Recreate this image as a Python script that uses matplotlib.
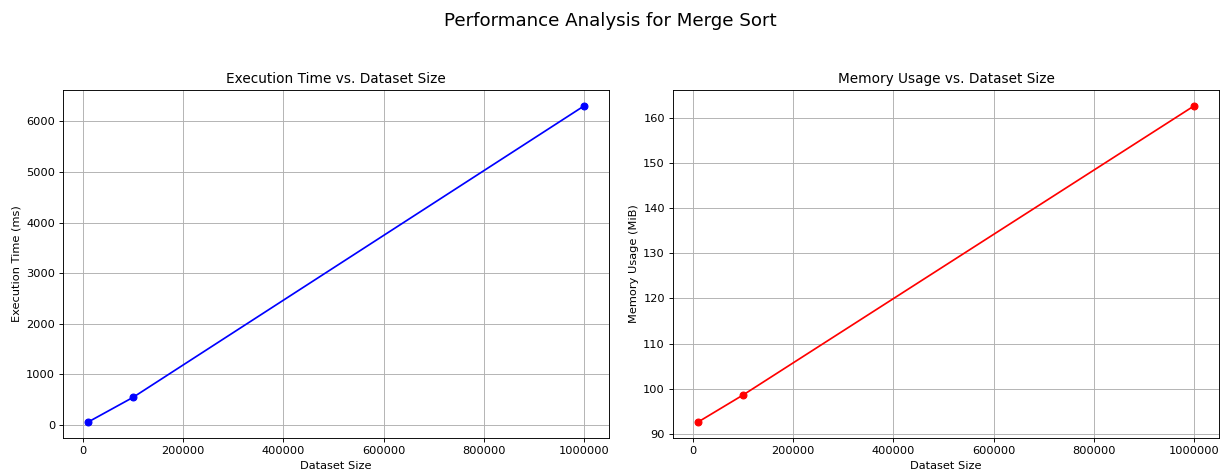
import matplotlib
matplotlib.use("Agg")
import matplotlib.pyplot as plt

# dataset sizes and measured results
sizes = [10000, 100000, 1000000]
exec_time_ms = [55, 545, 6310]
memory_mib = [92.6, 98.6, 162.6]

DPI = 82
fig, (ax1, ax2) = plt.subplots(1, 2, figsize=(1221 / DPI, 476 / DPI), dpi=DPI)
fig.subplots_adjust(left=0.0516, right=0.9984, top=0.811, bottom=0.0798, wspace=0.117)
fig.suptitle('Performance Analysis for Merge Sort', fontsize=16, y=0.975)

ax1.plot(sizes, exec_time_ms, marker='o', color='blue')
ax1.set_title('Execution Time vs. Dataset Size')
ax1.set_xlabel('Dataset Size')
ax1.set_ylabel('Execution Time (ms)')
ax1.ticklabel_format(style='plain', axis='x')
ax1.grid(True)

ax2.plot(sizes, memory_mib, marker='o', color='red')
ax2.set_title('Memory Usage vs. Dataset Size')
ax2.set_xlabel('Dataset Size')
ax2.set_ylabel('Memory Usage (MiB)')
ax2.ticklabel_format(style='plain', axis='x')
ax2.grid(True)

plt.savefig('out.png', dpi=DPI)
